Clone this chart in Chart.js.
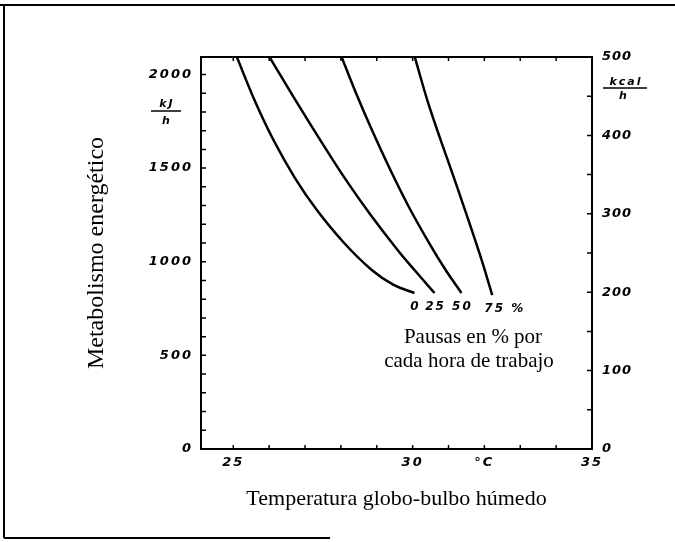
<!DOCTYPE html>
<html>
<head>
<meta charset="utf-8">
<script src="https://cdn.jsdelivr.net/npm/chart.js@4"></script>
<style>
html,body{margin:0;padding:0;background:#fff;}
#wrap{width:675px;height:542px;position:relative;}
</style>
</head>
<body>
<div id="wrap"><canvas id="c" width="675" height="542"></canvas></div>
<script>
// ---- data ----
const seriesNames = ['0', '25', '50', '75 %'];
const temp0  = [25.10, 25.59, 26.12, 26.72, 27.33, 28.09, 28.86, 29.47, 30.05];
const kj0    = [2093, 1864, 1650, 1447, 1276, 1100, 956, 876, 833];
const temp25 = [26.01, 26.78, 27.46, 28.14, 28.81, 29.58, 30.10, 30.61];
const kj25   = [2093, 1848, 1639, 1437, 1255, 1063, 945, 833];
const temp50 = [28.02, 28.42, 28.84, 29.38, 29.91, 30.46, 30.92, 31.36];
const kj50   = [2093, 1901, 1714, 1490, 1287, 1100, 956, 833];
const temp75 = [30.06, 30.47, 31.22, 31.86, 32.22];
const kj75   = [2093, 1826, 1410, 1047, 822];
const xTickValues = [25, 26, 27, 28, 29, 30, 31, 32, 33, 34, 35];
const xTickLabels = {25: '25', 30: '30', 32: '°C', 35: '35'};
const kjLabels = [0, 500, 1000, 1500, 2000];
const kcalLabels = [0, 100, 200, 300, 400, 500];
const xTitle = 'Temperatura globo-bulbo húmedo';
const yTitle = 'Metabolismo energético';
const noteLines = ['Pausas en % por', 'cada hora de trabajo'];

const KJ_PER_KCAL = 4.1868;
const TICK_FONT = {family: 'DejaVu Sans', size: 13, style: 'italic', weight: 'bold'};
const SERIF = 'Liberation Serif';

function pts(xs, ys) { return xs.map((x, i) => ({x: x, y: ys[i]})); }
const curves = [pts(temp0, kj0), pts(temp25, kj25), pts(temp50, kj50), pts(temp75, kj75)];

function spaced(ls) {
  return function (scale) {
    if (scale._spaced) return;
    scale._spaced = true;
    const proto = Object.getPrototypeOf(scale);
    scale.drawLabels = function (area) {
      const c = this.ctx;
      const prev = c.letterSpacing;
      c.letterSpacing = ls;
      proto.drawLabels.call(this, area);
      c.letterSpacing = prev || '0px';
    };
  };
}

const decorations = {
  id: 'decorations',
  beforeDraw(chart) {
    const ctx = chart.ctx;
    ctx.save();
    ctx.strokeStyle = '#000';
    ctx.lineWidth = 2;
    ctx.beginPath();
    ctx.moveTo(0, 5); ctx.lineTo(675, 5);
    ctx.moveTo(4, 5); ctx.lineTo(4, 538);
    ctx.moveTo(4, 538); ctx.lineTo(330, 538);
    ctx.stroke();
    ctx.restore();
  },
  afterDraw(chart) {
    const ctx = chart.ctx;
    const {x, y, y2} = chart.scales;
    const a = chart.chartArea;
    ctx.save();
    ctx.strokeStyle = '#000';
    ctx.lineWidth = 2;
    ctx.beginPath();
    ctx.moveTo(a.left - 1, a.top); ctx.lineTo(a.right + 1, a.top);
    ctx.stroke();
    ctx.lineWidth = 1.5;
    ctx.beginPath();
    xTickValues.forEach(v => {
      const px = x.getPixelForValue(v);
      ctx.moveTo(px, a.bottom); ctx.lineTo(px, a.bottom - 4);
      ctx.moveTo(px, a.top); ctx.lineTo(px, a.top + 4);
    });
    y.ticks.forEach(t => {
      const py = y.getPixelForValue(t.value);
      ctx.moveTo(a.left, py); ctx.lineTo(a.left + 5, py);
    });
    y2.ticks.forEach(t => {
      const py = y2.getPixelForValue(t.value);
      ctx.moveTo(a.right, py); ctx.lineTo(a.right - 5, py);
    });
    ctx.stroke();

    // unit fractions
    ctx.fillStyle = '#000';
    ctx.font = 'italic bold 11px "DejaVu Sans"';
    ctx.textAlign = 'center';
    ctx.textBaseline = 'middle';
    ctx.letterSpacing = '2px';
    ctx.fillText('kJ', 167, 104);
    ctx.fillText('h', 167, 121);
    ctx.fillText('kcal', 626, 82);
    ctx.fillText('h', 624, 96);
    ctx.letterSpacing = '0px';
    ctx.lineWidth = 1.5;
    ctx.beginPath();
    ctx.moveTo(151, 111); ctx.lineTo(181, 111);
    ctx.moveTo(603, 88); ctx.lineTo(647, 88);
    ctx.stroke();

    // curve labels under curve ends
    ctx.font = 'italic bold 12px "DejaVu Sans"';
    ctx.letterSpacing = '2px';
    curves.forEach((c, i) => {
      const end = c[c.length - 1];
      const px = x.getPixelForValue(end.x);
      const py = y.getPixelForValue(end.y) + 14;
      if (i === 3) { ctx.textAlign = 'left'; ctx.fillText(seriesNames[i], px - 8, py); }
      else { ctx.textAlign = 'center'; ctx.fillText(seriesNames[i], px + 1, py); }
    });
    ctx.letterSpacing = '0px';

    // note
    ctx.font = '21px "' + SERIF + '"';
    ctx.textAlign = 'center';
    ctx.fillText(noteLines[0], 473, 337);
    ctx.fillText(noteLines[1], 469, 361);
    ctx.restore();
  }
};

new Chart(document.getElementById('c'), {
  type: 'line',
  data: {
    datasets: curves.map((c, i) => ({
      label: seriesNames[i],
      data: c,
      borderColor: '#000',
      borderWidth: 2.5,
      pointRadius: 0,
      fill: false,
      tension: 0.4,
      yAxisID: 'y'
    }))
  },
  plugins: [decorations],
  options: {
    responsive: false,
    animation: false,
    devicePixelRatio: 1,
    layout: {padding: {top: 57, left: 0, right: 0, bottom: 0}},
    plugins: {legend: {display: false}, tooltip: {enabled: false}},
    scales: {
      x: {
        type: 'linear', position: 'bottom', min: 24.1, max: 35,
        afterBuildTicks: s => { s.ticks = xTickValues.map(v => ({value: v})); },
        afterFit: s => { s.height = 93; },
        afterUpdate: spaced('2px'),
        grid: {display: false, drawTicks: false},
        border: {display: true, color: '#000', width: 2},
        ticks: {
          color: '#000', font: TICK_FONT, padding: 6, maxRotation: 0, autoSkip: false,
          callback: v => xTickLabels[v] || ''
        },
        title: {display: true, text: xTitle, color: '#000',
                font: {family: SERIF, size: 22}, padding: {top: 0, bottom: 30}}
      },
      y: {
        type: 'linear', position: 'left', min: 0, max: 500 * KJ_PER_KCAL,
        afterBuildTicks: s => { const t = []; for (let v = 0; v <= 2000; v += 100) t.push({value: v}); s.ticks = t; },
        afterFit: s => { s.width = 201; },
        afterUpdate: spaced('2px'),
        grid: {display: false, drawTicks: false},
        border: {display: true, color: '#000', width: 2},
        ticks: {
          color: '#000', font: TICK_FONT, padding: 8, autoSkip: false,
          callback: v => kjLabels.includes(v) ? String(v) : ''
        },
        title: {display: true, text: yTitle, color: '#000',
                font: {family: SERIF, size: 24}, padding: {top: 82, bottom: 0}}
      },
      y2: {
        type: 'linear', position: 'right', min: 0, max: 500,
        afterBuildTicks: s => { const t = []; for (let v = 0; v <= 500; v += 50) t.push({value: v}); s.ticks = t; },
        afterFit: s => { s.width = 83; },
        afterUpdate: spaced('1px'),
        grid: {display: false, drawTicks: false},
        border: {display: true, color: '#000', width: 2},
        ticks: {
          color: '#000', font: TICK_FONT, padding: 10, autoSkip: false,
          callback: v => kcalLabels.includes(v) ? String(v) : ''
        }
      }
    }
  }
});
</script>
</body>
</html>
